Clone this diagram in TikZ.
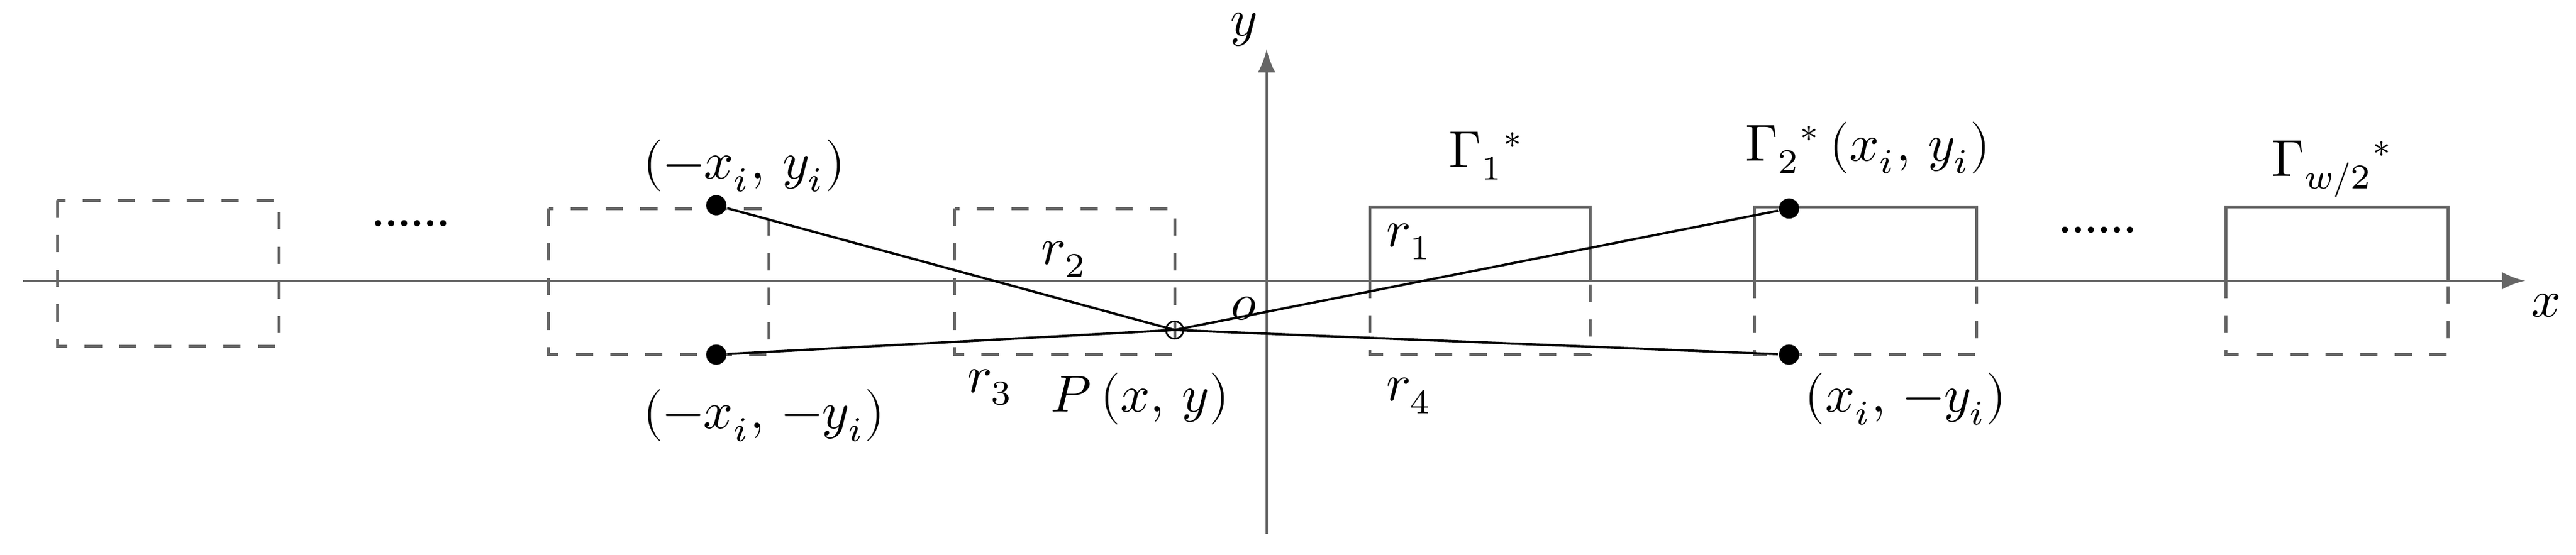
\documentclass[tikz,border=0pt]{standalone}
\usepackage{fontspec}
\setmainfont{Liberation Serif}
\usepackage{unicode-math}
\setmathfont{Latin Modern Math}
\usetikzlibrary{positioning}
\tikzset{
  dot/.style = {circle, fill, inner sep=0pt, minimum size=3.5pt},
  lbl/.style = {inner sep=1pt, font=\fontsize{9}{10}\selectfont},
  halfbox/.style = {gray!80!black, line width=0.5pt},
  dbox/.style = {halfbox, dashed}
}
\begin{document}
\begin{tikzpicture}[x=0.01cm, y=-0.01cm, line width=0.4pt]
    \useasboundingbox (0,0) rectangle (1568,338);
    % axes
    \draw[-latex, gray!80!black] (14,171) -- (1537,171);
    \draw[-latex, gray!80!black] (771,325) -- (771,30);
    \node[lbl] (xl) at (1550,186) {$x$};
    \node[lbl] (yl) at (757,18) {$y$};
    % left mirrored boxes
    \draw[dbox] (35,122) rectangle (170,211);
    \draw[dbox] (334,127) rectangle (468,216);
    \draw[dbox] (581,127) rectangle (715,216);
    % right boxes
    \foreach \a/\b in {834/968, 1068/1203, 1355/1490} {
        \draw[halfbox] (\a,171) -- (\a,126) -- (\b,126) -- (\b,171);
        \draw[dbox] (\a,171) -- (\a,216) -- (\b,216) -- (\b,171);
    }
    % points
    \node[dot] (A) at (436,125) {};
    \node[dot] (B) at (436,216) {};
    \node[dot] (C) at (1089,127) {};
    \node[dot] (D) at (1089,216) {};
    \coordinate (P) at (715,201);
    \draw (A) -- (P) -- (D);
    \draw (B) -- (P) -- (C);
    \node[circle, draw, inner sep=0pt, minimum size=3pt, line width=0.3pt] (Pc) at (P) {};
    % labels
    \node[lbl] (la) at (453,101) {$(-x_i,\,y_i)$};
    \node[lbl] (lb) at (465,253) {$(-x_i,\,-y_i)$};
    \node[lbl] (g1) at (905,95) {$\Gamma_1{}^{*}$};
    \node[lbl] (g2) at (1137,90) {$\Gamma_2{}^{*}\,(x_i,\,y_i)$};
    \node[lbl] (gw) at (1420,103) {$\Gamma_{w/2}{}^{*}$};
    \node[lbl] (ld) at (1160,243) {$(x_i,\,-y_i)$};
    \node[lbl] (dl) at (250,136) {......};
    \node[lbl] (dr) at (1277,140) {......};
    \node[lbl] (r2) at (648,158) {$r_2$};
    \node[lbl] (r1) at (858,147) {$r_1$};
    \node[lbl] (o) at (757,188) {$o$};
    \node[lbl] (r3) at (603,236) {$r_3$};
    \node[lbl] (lp) at (694,243) {$P\,(x,\,y)$};
    \node[lbl] (r4) at (858,241) {$r_4$};
\end{tikzpicture}
\end{document}
